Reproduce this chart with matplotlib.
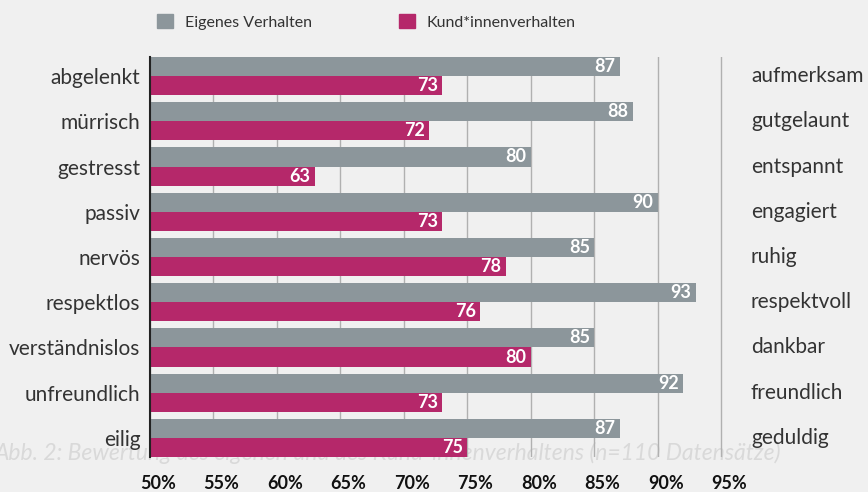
import matplotlib
matplotlib.use("Agg")
import matplotlib.pyplot as plt
import matplotlib.transforms as mtransforms
from matplotlib.patches import Patch
import numpy as np

# ------------------- Data -------------------
left_labels = ["abgelenkt", "mürrisch", "gestresst", "passiv", "nervös",
               "respektlos", "verständnislos", "unfreundlich", "eilig"]
right_labels = ["aufmerksam", "gutgelaunt", "entspannt", "engagiert", "ruhig",
                "respektvoll", "dankbar", "freundlich", "geduldig"]
eigenes = [87, 88, 80, 90, 85, 93, 85, 92, 87]
kunden = [73, 72, 63, 73, 78, 76, 80, 73, 75]
xticks = [50, 55, 60, 65, 70, 75, 80, 85, 90, 95]

# ------------------- Style -------------------
gray = "#8c969b"
magenta = "#b5286a"
bg = "#f0f0f0"
text_col = "#333333"
plt.rcParams["font.family"] = ["Lato", "DejaVu Sans"]

fig = plt.figure(figsize=(8.68, 4.92), dpi=100, facecolor=bg)
ax = fig.add_axes([150 / 868, 1 - 457 / 492, (724 - 150) / 868, (457 - 57) / 492])
ax.set_facecolor("none")

# faded caption behind the bars
fig.text(-0.006, 1 - 453 / 492,
         "Abb. 2: Bewertung des eigenen und des Kund*innenverhaltens (n=110 Datensätze)",
         fontsize=16.5, style="italic", color="#d9d9d9", va="center", ha="left", zorder=-1)

y = np.arange(len(left_labels))
h = 0.42
ax.barh(y - h / 2, [v - 50 for v in eigenes], left=50, height=h, color=gray, zorder=2)
ax.barh(y + h / 2, [v - 50 for v in kunden], left=50, height=h, color=magenta, zorder=2)

for yi, v in zip(y, eigenes):
    ax.text(v - 0.35, yi - h / 2, str(v), color="white", fontweight="bold",
            fontsize=13, ha="right", va="center", zorder=3)
for yi, v in zip(y, kunden):
    ax.text(v - 0.35, yi + h / 2, str(v), color="white", fontweight="bold",
            fontsize=13, ha="right", va="center", zorder=3)

ax.set_xlim(50, 95.2)
ax.set_ylim(len(left_labels) - 1 + h, -h)
ax.set_xticks(xticks)
ax.set_xticklabels([f"{t}%" for t in xticks], fontweight="bold", fontsize=13, color="#111111")
ax.set_yticks(y)
ax.set_yticklabels(left_labels, fontsize=15, color=text_col)
ax.tick_params(axis="both", length=0)
ax.tick_params(axis="x", pad=13)
ax.tick_params(axis="y", pad=7)

# tick labels in the original sit a little right of the grid lines
shift = mtransforms.ScaledTranslation(8 / 100, 0, fig.dpi_scale_trans)
for lab in ax.get_xticklabels():
    lab.set_transform(lab.get_transform() + shift)

ax.grid(axis="x", color="#b0b0b0", linewidth=1, zorder=1)
ax.set_axisbelow(True)
for s in ["top", "right", "bottom"]:
    ax.spines[s].set_visible(False)
ax.spines["left"].set_color("#222222")
ax.spines["left"].set_linewidth(1.5)
ax.spines["left"].set_zorder(4)

trans = mtransforms.blended_transform_factory(ax.transAxes, ax.transData)
for yi, lab in zip(y, right_labels):
    ax.text(1.047, yi, lab, transform=trans, fontsize=15, color=text_col,
            ha="left", va="center")

handles = [Patch(color=gray, label="Eigenes Verhalten"),
           Patch(color=magenta, label="Kund*innenverhalten")]
fig.legend(handles=handles, loc="center left", bbox_to_anchor=(143 / 868, 1 - 22 / 492),
           ncol=2, frameon=False, fontsize=11.5, handlelength=1.0, handleheight=1.0,
           handletextpad=0.7, columnspacing=5.5, labelcolor=text_col)

fig.savefig("out.png", dpi=100, facecolor=bg)
